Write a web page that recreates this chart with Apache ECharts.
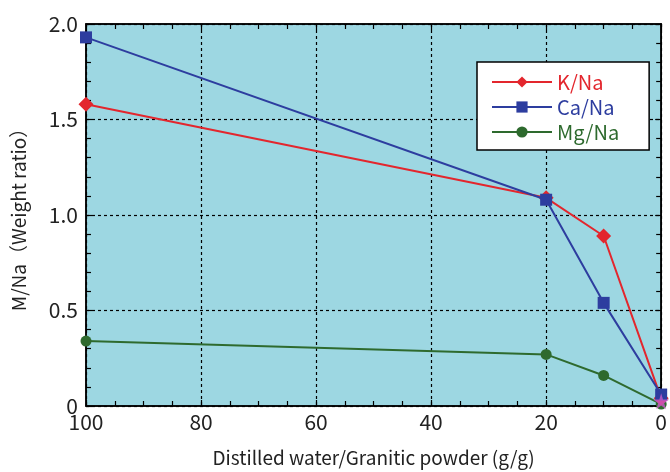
<!DOCTYPE html>
<html>
<head>
<meta charset="utf-8">
<script src="https://cdn.jsdelivr.net/npm/echarts@6/dist/echarts.min.js"></script>
<style>
  html, body { margin: 0; padding: 0; background: #fff; }
  #main { width: 670px; height: 472px; }
</style>
</head>
<body>
<div id="main"></div>
<script>
// water / powder ratio (g/g)
var ratios = [100, 20, 10, 0];
var kNa = [1.58, 1.09, 0.89, 0.04];
var caNa = [1.93, 1.08, 0.54, 0.06];
var mgNa = [0.34, 0.27, 0.16, 0.01];
var starPoint = [[0, 0.025]];

var font = "'Noto Sans CJK JP', 'DejaVu Sans', sans-serif";
var starPath = "path://M50,0 L61,35 L98,35 L68,57 L79,91 L50,70 L21,91 L32,57 L2,35 L39,35 Z";

function pairs(ys) {
  return ratios.map(function (x, i) { return [x, ys[i]]; });
}

var myChart = echarts.init(document.getElementById("main"));

var axisCommon = {
  type: "value",
  axisLine: { show: true, onZero: false, lineStyle: { color: "#000", width: 1.5 } },
  axisTick: { show: true, inside: true, length: 6, lineStyle: { color: "#000", width: 1.2 } },
  minorTick: { show: true, length: 5, lineStyle: { color: "#000", width: 1.2 } }
};

var option = {
  animation: false,
  grid: {
    left: 86,
    right: 7,
    top: 24,
    bottom: 64,
    show: true,
    backgroundColor: "#9dd7e2",
    borderColor: "#000",
    borderWidth: 1.5
  },
  legend: {
    orient: "vertical",
    left: 477,
    top: 62,
    padding: [10, 30, 8, 14],
    itemGap: 5,
    itemWidth: 60,
    itemHeight: 14,
    backgroundColor: "#fff",
    borderColor: "#000",
    borderWidth: 1.5,
    borderRadius: 0,
    textStyle: { fontFamily: font, fontSize: 20 },
    data: [
      { name: "K/Na", textStyle: { color: "#e3262d" } },
      { name: "Ca/Na", textStyle: { color: "#2d3d9f" } },
      { name: "Mg/Na", textStyle: { color: "#2e6a2e" } }
    ]
  },
  xAxis: [
    Object.assign({}, axisCommon, {
      position: "bottom",
      min: 0,
      max: 100,
      interval: 20,
      inverse: true,
      minorTick: Object.assign({}, axisCommon.minorTick, { splitNumber: 4 }),
      splitLine: { show: true, lineStyle: { color: "#000", type: [3, 3], width: 1.2 } },
      axisLabel: { color: "#222", fontSize: 21, fontFamily: font, margin: 6 },
      name: "Distilled water/Granitic powder (g/g)",
      nameLocation: "middle",
      nameGap: 42,
      nameTextStyle: { color: "#222", fontSize: 19, fontFamily: font }
    }),
    Object.assign({}, axisCommon, {
      position: "top",
      min: 0,
      max: 100,
      interval: 20,
      inverse: true,
      minorTick: Object.assign({}, axisCommon.minorTick, { splitNumber: 4 }),
      splitLine: { show: false },
      axisLabel: { show: false }
    })
  ],
  yAxis: [
    Object.assign({}, axisCommon, {
      position: "left",
      min: 0,
      max: 2.0,
      interval: 0.5,
      minorTick: Object.assign({}, axisCommon.minorTick, { splitNumber: 5 }),
      splitLine: { show: true, lineStyle: { color: "#000", type: [3, 3], width: 1.2 } },
      axisLabel: {
        color: "#222",
        fontSize: 21,
        fontFamily: font,
        margin: 8,
        formatter: function (v) {
          return v === 0 ? "0" : v.toFixed(1);
        }
      },
      name: "M/Na（Weight ratio）",
      nameLocation: "middle",
      nameGap: 58,
      nameTextStyle: { color: "#222", fontSize: 19, fontFamily: font }
    }),
    Object.assign({}, axisCommon, {
      position: "right",
      min: 0,
      max: 2.0,
      interval: 0.5,
      minorTick: Object.assign({}, axisCommon.minorTick, { splitNumber: 5 }),
      splitLine: { show: false },
      axisLabel: { show: false }
    })
  ],
  series: [
    {
      name: "Mg/Na",
      type: "line",
      data: pairs(mgNa),
      symbol: "circle",
      symbolSize: 11,
      itemStyle: { color: "#2e6a2e" },
      lineStyle: { color: "#2e6a2e", width: 2 },
      z: 3
    },
    {
      name: "K/Na",
      type: "line",
      data: pairs(kNa),
      symbol: "diamond",
      symbolSize: 15,
      itemStyle: { color: "#e3262d" },
      lineStyle: { color: "#e3262d", width: 2 },
      z: 4
    },
    {
      name: "Ca/Na",
      type: "line",
      data: pairs(caNa),
      symbol: "rect",
      symbolSize: 12,
      itemStyle: { color: "#2d3d9f" },
      lineStyle: { color: "#2d3d9f", width: 2 },
      z: 5
    },
    {
      name: "star",
      type: "scatter",
      data: starPoint,
      symbol: starPath,
      symbolSize: 16,
      itemStyle: { color: "#c85ac8" },
      z: 6
    }
  ]
};

myChart.setOption(option);
</script>
</body>
</html>
